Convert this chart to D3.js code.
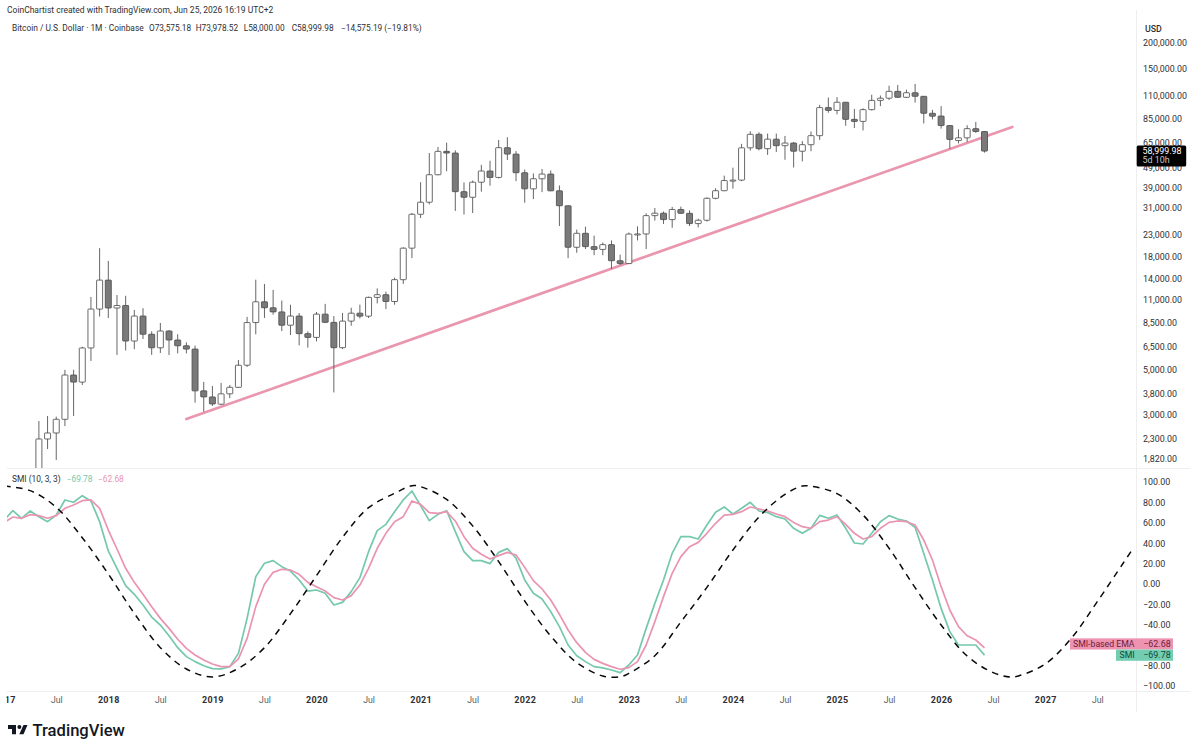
<!DOCTYPE html>
<html>
<head>
<meta charset="utf-8">
<script src="https://cdn.jsdelivr.net/npm/d3@7/dist/d3.min.js"></script>
<style>
  html, body { margin: 0; padding: 0; background: #fff; }
  svg { display: block; font-family: Roboto, "Open Sans", sans-serif; }
  .tick text { font-family: Roboto, "Open Sans", sans-serif; }
</style>
</head>
<body>
<svg id="chart" width="1200" height="750"></svg>
<script>
// Month offsets count from Jan 2017; the first candle is May 2017.
const firstCandleMonth = 4;

const opens = [
  1350, 2282, 2442, 2850, 4700, 4338, 6380, 9900,
  13730, 10020, 10310, 6900, 9150, 7450, 6390, 7730, 6980, 6540, 6300, 3930,
  3670, 3380, 3800, 4090, 5250, 8500, 10750, 10050, 9590, 8250, 9150, 7500,
  7190, 9350, 8520, 6400, 8640, 9450, 9140, 11300, 11650, 10780, 13800, 19700,
  28900, 33100, 45150, 58800, 57700, 37300, 35000, 41500, 47100, 43800, 61300, 57000,
  46200, 38500, 43150, 45500, 37650, 31800, 19900, 23300, 20050, 19420, 20500, 17100,
  16550, 23100, 23130, 28450, 29250, 27200, 30500, 29200, 26000, 27000, 34600, 37700,
  42300, 42500, 61200, 71300, 60600, 67500, 62700, 64600, 58900, 63400, 70200, 96400,
  93400, 102400, 84400, 82500, 94200, 104600, 107200, 115800, 108300, 114000, 109500, 90400,
  87600, 78700, 66500, 68500, 76000, 73575.18
];
const highs = [
  2795, 2959, 2938, 4980, 4990, 6470, 11350, 19700,
  17050, 11600, 11500, 9800, 10000, 7700, 8460, 7800, 7450, 6800, 6550, 4350,
  4150, 4300, 4200, 5570, 9060, 13800, 13150, 12300, 10900, 10400, 9470, 7700,
  9580, 10500, 9150, 9480, 10050, 10400, 11400, 12500, 12050, 14100, 19900, 29300,
  41500, 57700, 61800, 64900, 59500, 41400, 42300, 50500, 52900, 66900, 69000, 59000,
  47900, 45800, 48200, 47400, 40000, 31900, 24300, 25100, 22700, 21000, 21500, 18300,
  23500, 25200, 29200, 31000, 29800, 31400, 31500, 30200, 27500, 35000, 38800, 44700,
  48900, 64000, 73800, 73000, 71900, 71900, 70000, 65400, 66000, 73600, 99400, 108000,
  108500, 102500, 95000, 95700, 111500, 110500, 123500, 124500, 118000, 126000, 109800, 94000,
  98000, 78900, 75500, 79000, 82000, 73978.52
];
const lows = [
  1348, 2037, 1800, 2640, 2960, 4200, 5510, 9100,
  8950, 5900, 6200, 6300, 7060, 5900, 6030, 5890, 6000, 6000, 3440, 3105,
  3315, 3350, 3620, 4070, 5150, 7450, 8950, 9290, 7720, 7380, 6570, 6400,
  6870, 8450, 3860, 6300, 8200, 8900, 8950, 10550, 9900, 10400, 13150, 17600,
  27700, 32300, 44900, 47000, 30000, 28800, 29300, 37300, 39900, 43300, 53300, 42000,
  32900, 34300, 37100, 37500, 25300, 17600, 18700, 19500, 18200, 18200, 15570, 16300,
  16500, 21500, 19500, 26900, 25900, 24800, 29000, 25300, 24900, 26600, 34200, 37500,
  38600, 42000, 59300, 59500, 56500, 58400, 53500, 49000, 52500, 58900, 66900, 91000,
  89300, 78500, 76500, 74500, 93300, 98000, 105000, 107600, 107500, 102000, 80600, 84400,
  76000, 60400, 64300, 65300, 72500, 58000
];
const closes = [
  2282, 2442, 2850, 4700, 4338, 6380, 9900, 13730,
  10020, 10310, 6900, 9150, 7450, 6390, 7730, 6980, 6540, 6300, 3930, 3670,
  3390, 3800, 4090, 5250, 8500, 10750, 10050, 9590, 8250, 9150, 7500, 7190,
  9350, 8520, 6400, 8640, 9450, 9140, 11300, 11650, 10780, 13800, 19700, 28900,
  33100, 45150, 58800, 57700, 37300, 35000, 41500, 47100, 43800, 61300, 57000, 46200,
  38500, 43150, 45500, 37650, 31800, 19900, 23300, 20050, 19420, 20500, 17100, 16550,
  23100, 23130, 28450, 29250, 27200, 30500, 29200, 26000, 27000, 34600, 37700, 42300,
  42500, 61200, 71300, 60600, 67500, 62700, 64600, 58900, 63400, 70200, 96400, 93400,
  102400, 84400, 82500, 94200, 104600, 107200, 115800, 108300, 114000, 109500, 90400, 87500,
  78700, 67300, 68500, 76000, 73575.18, 58999.98
];

// Stochastic momentum index and its EMA, one value per month from Jan 2017.
const smiValues = [
  62.7, 71.9, 64.4, 71.6, 66, 61.1, 67.6, 82.4, 80.1, 86.6, 81.4, 61.1,
  32.4, 15.4, -1.6, -10.1, -20.6, -32.4, -40.2, -50.7, -62.4, -71.2, -76.1, -80.1,
  -83, -83.3, -81, -68, -33.7, 7.2, 20.3, 22.9, 17, 12.7, 3.9, -6.9,
  -5.9, -9.1, -20.6, -18, -7.5, 6.2, 31.7, 52.3, 58.5, 70.9, 82.4, 91.2,
  76.8, 62.1, 68.3, 71.9, 51.3, 31.7, 22.9, 22.9, 20, 31, 34.7, 25.2,
  4, -9.1, -14.7, -27.1, -41.8, -59.8, -70.3, -76.1, -81, -82.3, -84.3, -86.9,
  -79.4, -69.6, -43.5, -19, 4, 30.1, 46.4, 46.4, 44.1, 57.8, 70.3, 75.5,
  68.6, 74.2, 80.1, 71.6, 70, 66, 63.7, 54.6, 49.7, 54.6, 67.3, 64.4,
  67.6, 54.6, 40.2, 39.2, 49.7, 61.1, 67, 63.7, 61.8, 55.6, 30, 4,
  -23.9, -46.7, -59.8, -59.8, -59.8, -69.78
];
const smiEmaValues = [
  60.4, 65.7, 64.4, 68, 67, 64.4, 67, 74.2, 77.4, 81.7, 82.4, 74.2,
  52.9, 34.3, 15.4, 1.6, -10.1, -22.2, -33.7, -43.5, -54.2, -63.1, -69.6, -74.5,
  -78.4, -81, -81, -73.5, -53.3, -22.2, -0.3, 11.4, 14.4, 13.7, 9.5, 1.6,
  -2.6, -6.9, -13.4, -15.7, -11.4, -1, 15.4, 35, 49.7, 61.1, 66, 81.4,
  78.1, 69.9, 69.3, 70.9, 61.8, 46.4, 35, 29.1, 24.5, 27.8, 31, 28.4,
  16.3, 3.3, -4.9, -15.7, -29.7, -45.1, -57.5, -67, -73.9, -77.8, -81, -83.6,
  -82, -76.1, -59.8, -36.9, -12.4, 10.5, 26.8, 36.6, 40.8, 49.7, 59.5, 67.6,
  68.3, 70.9, 75.5, 73.5, 71.6, 68.6, 66, 60.4, 56.2, 54.6, 61.1, 62.7,
  66, 58.5, 49.7, 44.1, 46.4, 54.6, 60.4, 61.8, 61.1, 57.8, 43.1, 23.5,
  -2.6, -25.5, -41.8, -50.7, -54.9, -62.68
];

// Hand-drawn cycle guide on the SMI pane, sampled at these months.
const cycleMonths = [
  0, 3, 6, 9, 12, 15, 18, 21, 24, 27, 30, 33, 36, 39, 42, 45, 47,
  48, 51, 54, 57, 60, 63, 66, 69, 71, 72, 75, 78, 81, 84, 87, 90, 92,
  93, 96, 99, 102, 105, 108, 111, 114, 116, 117, 120, 123, 126, 129, 130
];
const cycleValues = [
  96.1, 91.5, 75.2, 45.4, 9.8, -28.8, -62.4, -83.3, -91.2, -82.7, -62.4, -29.1, 8.2, 45.7, 74.8, 88.9, 96.4,
  95.4, 83, 57, 21.9, -16.7, -51, -77.1, -90.2, -91, -87.6, -70.3, -37.2, -3.3, 33.3, 65.7, 87.9, 96.1,
  95.8, 88.6, 67.7, 35, -3.6, -40.2, -70.6, -86.9, -91.2, -89.9, -78.4, -53.3, -17.3, 20.6, 33.3
];

// Rising support line, anchored on two month/price pairs.
const trendMonths = [21, 116.2];
const trendPrices = [2860, 77500];

const priceTicks = [200000, 150000, 110000, 85000, 65000, 49000, 39000, 31000, 23000, 18000, 14000, 11000, 8500, 6500, 5000, 3800, 3000, 2300, 1820];
const smiTicks = [100, 80, 60, 40, 20, 0, -20, -40, -60, -80, -100];
const timeTickMonths = d3.range(0, 127, 6);
const timeTickLabels = ["2017","Jul","2018","Jul","2019","Jul","2020","Jul","2021","Jul","2022","Jul","2023","Jul","2024","Jul","2025","Jul","2026","Jul","2027","Jul"];

const attribution = "CoinChartist created with TradingView.com, Jun 25, 2026 16:19 UTC+2";
const symbolTitle = "Bitcoin / U.S. Dollar · 1M · Coinbase";
const quoteLabels = ["O73,575.18", "H73,978.52", "L58,000.00", "C58,999.98", "−14,575.19 (−19.81%)"];
const lastPrice = 58999.98;
const countdown = "5d 10h";

const pal = {
  text: "#2f2f33", muted: "#5c5c60", rule: "#eeeeee",
  up: "#ffffff", down: "#7a7a7a", edge: "#4f4f4f", wick: "#666666",
  trend: "#e996ae", smi: "#74c8ad", ema: "#ea94af",
  emaTag: "#ee93b0", smiTag: "#73cdb1", emaInk: "#6d1c3e", smiInk: "#0c4a3a"
};

const svg = d3.select("#chart");
const x = d3.scaleLinear().domain([12, 113]).range([108.3, 984.5]);
const yPrice = d3.scaleLog().domain([1820, 200000]).range([459, 43]);
const ySmi = d3.scaleLinear().domain([-100, 100]).range([686, 482]);
const minus = s => s.replace("-", "−");

const defs = svg.append("defs");
const clip = (id, x0, y0, w, h) => defs.append("clipPath").attr("id", id)
  .append("rect").attr("x", x0).attr("y", y0).attr("width", w).attr("height", h);
clip("pricePane", 7, 18, 1129.5, 450);
clip("smiPane", 7, 469, 1129.5, 222);
clip("timeAxis", 6.5, 0, 1130, 20);

// Frame rules between panes and axes.
const rule = (x1, y1, x2, y2) => svg.append("line")
  .attr("x1", x1).attr("y1", y1).attr("x2", x2).attr("y2", y2)
  .attr("stroke", pal.rule).attr("stroke-width", 1);
rule(7, 468.5, 1190, 468.5);
rule(7, 691.5, 1190, 691.5);
rule(1136.5, 10, 1136.5, 712);

// Price pane.
const pricePane = svg.append("g").attr("clip-path", "url(#pricePane)");
const trendLine = d3.line().x(d => x(d[0])).y(d => yPrice(d[1]));
pricePane.append("path")
  .attr("d", trendLine(d3.zip(trendMonths, trendPrices)))
  .attr("fill", "none").attr("stroke", pal.trend).attr("stroke-width", 2.7).attr("stroke-linecap", "round");

const candles = opens.map((o, i) => ({ m: firstCandleMonth + i, o, h: highs[i], l: lows[i], c: closes[i] }));
const candleG = pricePane.selectAll("g.candle").data(candles).join("g").attr("class", "candle");
candleG.append("line")
  .attr("x1", d => x(d.m)).attr("x2", d => x(d.m))
  .attr("y1", d => yPrice(d.h)).attr("y2", d => yPrice(d.l))
  .attr("stroke", pal.wick).attr("stroke-width", 1);
candleG.append("rect")
  .attr("x", d => x(d.m) - 3).attr("width", 6)
  .attr("y", d => yPrice(Math.max(d.o, d.c)))
  .attr("height", d => Math.max(1, Math.abs(yPrice(d.o) - yPrice(d.c))))
  .attr("rx", 0.5)
  .attr("fill", d => d.c >= d.o ? pal.up : pal.down)
  .attr("stroke", pal.edge).attr("stroke-width", 0.85);

// SMI pane.
const smiPane = svg.append("g").attr("clip-path", "url(#smiPane)");
const monthLine = d3.line().x((d, i) => x(i)).y(d => ySmi(d));
smiPane.append("path").attr("d", monthLine(smiValues))
  .attr("fill", "none").attr("stroke", pal.smi).attr("stroke-width", 1.7).attr("stroke-linejoin", "round");
smiPane.append("path").attr("d", monthLine(smiEmaValues))
  .attr("fill", "none").attr("stroke", pal.ema).attr("stroke-width", 1.7).attr("stroke-linejoin", "round");
const cycleLine = d3.line().x(d => x(d[0])).y(d => ySmi(d[1])).curve(d3.curveCatmullRom.alpha(0.5));
smiPane.append("path").attr("d", cycleLine(d3.zip(cycleMonths, cycleValues)))
  .attr("fill", "none").attr("stroke", "#0a0a0a").attr("stroke-width", 1.5).attr("stroke-dasharray", "6.5 5.5");

// Axes.
const axisStyle = (g, size, color) => {
  g.select(".domain").remove();
  g.selectAll(".tick line").remove();
  g.selectAll("text").attr("font-size", size).attr("fill", color);
};
svg.append("g").attr("transform", "translate(1143,0)")
  .call(d3.axisRight(yPrice).tickValues(priceTicks).tickFormat(d3.format(",.2f")).tickSize(0).tickPadding(0))
  .call(axisStyle, 8.9, pal.text);
svg.append("g").attr("transform", "translate(1143,0)")
  .call(d3.axisRight(ySmi).tickValues(smiTicks).tickFormat(d => minus(d3.format(".2f")(d))).tickSize(0).tickPadding(0))
  .call(axisStyle, 8.9, pal.text);
const timeAxis = svg.append("g").attr("transform", "translate(0,692)").attr("clip-path", "url(#timeAxis)")
  .call(d3.axisBottom(x).tickValues(timeTickMonths).tickFormat((d, i) => timeTickLabels[i]).tickSize(0).tickPadding(5));
timeAxis.call(axisStyle, 8.7, pal.muted);
timeAxis.selectAll("text").filter(d => d % 12 === 0)
  .attr("font-weight", 700).attr("fill", pal.text).attr("font-size", 9).attr("letter-spacing", 0.3);

// Headers and small text.
const label = (text, px, py, size, fill, weight) => svg.append("text")
  .attr("x", px).attr("y", py).attr("dy", "0.35em")
  .attr("font-size", size).attr("fill", fill).attr("font-weight", weight || 400).text(text);
label(attribution, 7, 10.5, 8.5, pal.text);
label(symbolTitle, 12, 28.3, 8.4, pal.text);
[149, 195.7, 243.7, 291.7, 341].forEach((px, i) => label(quoteLabels[i], px, 28.3, 8.3, pal.text));
label("USD", 1145, 29, 8.8, pal.text, 500);
label("SMI (10, 3, 3)", 12, 479, 8.4, pal.text);
label(minus(d3.format(".2f")(smiValues[smiValues.length - 1])), 66.7, 479, 8.4, pal.smi);
label(minus(d3.format(".2f")(smiEmaValues[smiEmaValues.length - 1])), 98, 479, 8.4, pal.ema);

// Current price flag.
const flagY = yPrice(lastPrice);
svg.append("rect").attr("x", 1136.7).attr("y", flagY - 5.5).attr("width", 49.5).attr("height", 21)
  .attr("rx", 1.5).attr("fill", "#000");
label(d3.format(",.2f")(lastPrice), 1142.5, flagY - 0.2, 8.9, "#ffffff");
label(countdown, 1142.5, flagY + 9.2, 8.9, "#c9c9c9");

// Indicator value tags; the EMA tag is nudged up so the two do not overlap.
const tag = (name, value, nudge, left, bg, ink, nameX) => {
  const cy = ySmi(value) + nudge;
  svg.append("rect").attr("x", left).attr("y", cy - 5.6).attr("width", 1173 - left).attr("height", 11.2).attr("fill", bg);
  label(name, nameX, cy, 8.7, ink);
  label(minus(d3.format(".2f")(value)), 1143.3, cy, 8.9, ink);
};
tag("SMI-based EMA", smiEmaValues[smiEmaValues.length - 1], -4, 1070, pal.emaTag, pal.emaInk, 1073);
tag("SMI", smiValues[smiValues.length - 1], 0, 1116, pal.smiTag, pal.smiInk, 1119.5);

// TradingView wordmark.
const logo = svg.append("g").attr("fill", "#131722");
logo.append("path").attr("d", "M8 725h8v9.2h-4v-5.2h-4z");
logo.append("circle").attr("cx", 19.4).attr("cy", 727).attr("r", 2);
logo.append("path").attr("d", "M23.5 725h4l-4 9.2h-4.2z");
logo.append("text").attr("x", 32.5).attr("y", 730).attr("dy", "0.36em")
  .attr("font-size", 16.6).attr("font-weight", 500).text("TradingView");
</script>
</body>
</html>
